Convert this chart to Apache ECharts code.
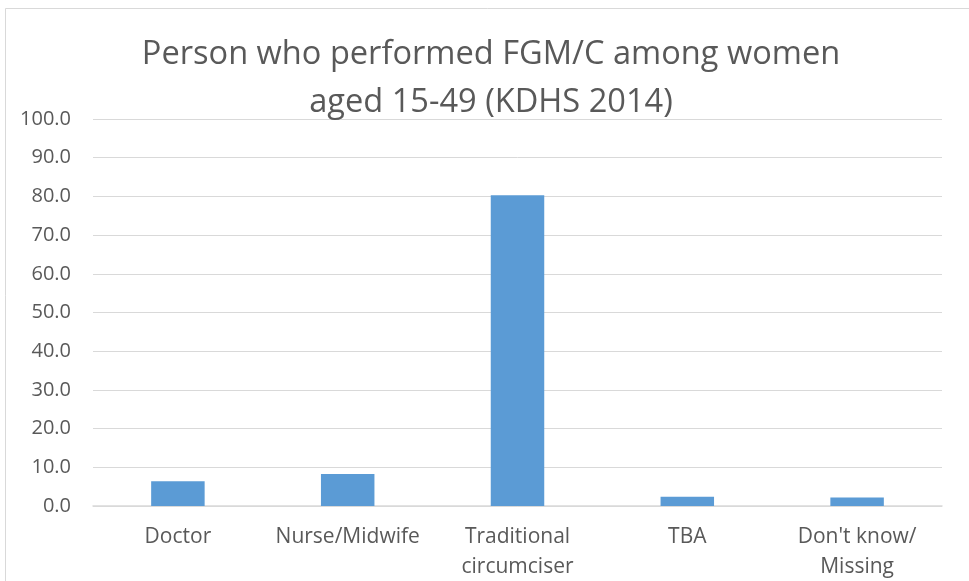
<!DOCTYPE html>
<html><head><meta charset="utf-8">
<script src="https://cdn.jsdelivr.net/npm/echarts@6/dist/echarts.min.js"></script>
<style>html,body{margin:0;padding:0;background:#fff}#c{width:969px;height:581px}</style>
</head><body><div id="c"></div>
<script>
var categories = ["Doctor", "Nurse/Midwife", "Traditional\ncircumciser", "TBA", "Don't know/\nMissing"];
var values = [6.4, 8.3, 80.3, 2.4, 2.2];
var titleText = "Person who performed FGM/C among women\naged 15-49 (KDHS 2014)";

var chart = echarts.init(document.getElementById('c'));
chart.setOption({
  animation: false,
  backgroundColor: '#fff',
  graphic: [{type:'rect', shape:{x:5.5,y:8.5,width:980,height:600}, style:{fill:'none', stroke:'#d9d9d9', lineWidth:1}, silent:true}],
  title: {
    text: titleText, left: 486, top: 26, textAlign: 'center',
    textStyle: {fontFamily: 'Open Sans', fontSize: 32.6, fontWeight: 'normal', color: '#595959', lineHeight: 48}
  },
  grid: {left: 93, right: 27, top: 119, bottom: 75, outerBoundsMode: 'none', containLabel: false},
  xAxis: {
    type: 'category', data: categories,
    axisLine: {lineStyle: {color: '#d9d9d9', width: 1.5}},
    axisTick: {show: false},
    axisLabel: {fontFamily: 'Open Sans', fontSize: 21, color: '#595959', margin: 16, lineHeight: 30, interval: 0}
  },
  yAxis: {
    type: 'value', min: 0, max: 100, interval: 10,
    axisLine: {show: false}, axisTick: {show: false},
    splitLine: {lineStyle: {color: '#d9d9d9', width: 1}},
    axisLabel: {fontFamily: 'Open Sans', fontSize: 20, color: '#595959', margin: 22, formatter: function(v){return v.toFixed(1);}}
  },
  series: [{type: 'bar', data: values, barWidth: '31.5%', itemStyle: {color: '#5B9BD5'}}]
});
</script></body></html>
